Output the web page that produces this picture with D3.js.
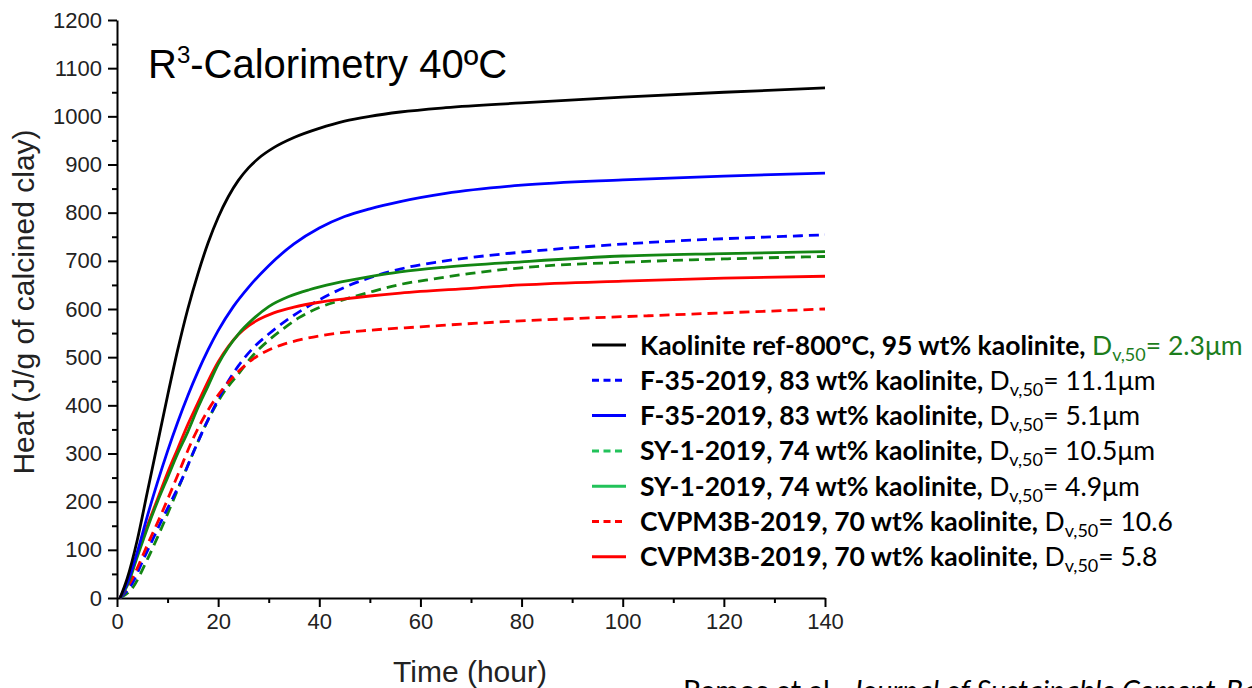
<!DOCTYPE html>
<html><head><meta charset="utf-8">
<script src="https://cdn.jsdelivr.net/npm/d3@7"></script>
<style>
html,body{margin:0;padding:0;background:#fff;overflow:hidden;}
svg{display:block;}
</style></head>
<body>
<svg id="chart" width="1252" height="688"></svg>
<script>
// ---- Data ----
const kaoT = [0.6, 2, 4, 6, 8, 10, 12, 14, 16, 18, 20, 22, 24, 26, 28, 31, 35, 40, 45, 50, 56, 65, 80, 100, 120, 140];
const kaoV = [0, 40, 120, 220, 320, 420, 515, 600, 673, 737, 790, 833, 867, 893, 913, 935, 956, 975, 990, 1000, 1009, 1018, 1028, 1040, 1050, 1059];

const f35fineT = [0.6, 2, 4, 6, 8, 10, 12, 14, 16, 18, 20, 23, 26, 30, 35, 40, 45, 50, 56, 65, 80, 100, 120, 140];
const f35fineV = [0, 30, 95, 170, 240, 305, 365, 420, 470, 515, 555, 605, 645, 690, 735, 768, 792, 808, 823, 840, 857, 868, 876, 882];

const f35coarseT = [0.6, 3, 5, 7, 9, 11, 13, 15, 18, 21, 24, 27, 30, 34, 39, 45, 50, 56, 63, 70, 80, 91, 105, 118, 130, 140];
const f35coarseV = [0, 30, 75, 120, 165, 207, 250, 300, 370, 432, 482, 520, 548, 580, 613, 645, 665, 683, 697, 707, 718, 728, 738, 745, 750, 754];

const sy1fineT = [0.6, 2, 4, 6, 8, 10, 12, 14, 16, 18, 20, 22, 24, 27, 30, 34, 38, 43, 50, 56, 65, 80, 100, 120, 140];
const sy1fineV = [0, 25, 85, 145, 200, 250, 300, 345, 395, 440, 485, 520, 548, 580, 605, 626, 640, 653, 667, 677, 687, 698, 710, 715, 719];

const sy1coarseT = [0.6, 3, 6, 9, 12, 15, 18, 21, 24, 27, 30, 33, 36, 40, 45, 50, 56, 63, 70, 84, 100, 120, 140];
const sy1coarseV = [0, 20, 80, 150, 225, 300, 370, 425, 465, 505, 535, 560, 582, 603, 620, 635, 651, 663, 674, 689, 697, 704, 709];

const cvpFineT = [0.6, 2, 4, 6, 8, 10, 12, 14, 16, 18, 20, 22, 24, 26, 28, 31, 35, 40, 45, 50, 56, 70, 80, 100, 120, 140];
const cvpFineV = [0, 30, 90, 150, 205, 260, 310, 360, 405, 450, 490, 522, 547, 565, 578, 592, 604, 614, 621, 627, 633, 643, 650, 658, 664, 668];

const cvpCoarseT = [0.6, 3, 6, 9, 12, 15, 18, 21, 24, 27, 30, 33, 37, 43, 50, 60, 72, 90, 105, 120, 140];
const cvpCoarseV = [0, 40, 110, 180, 255, 330, 390, 435, 470, 497, 515, 527, 538, 549, 556, 563, 571, 580, 586, 592, 600];

const xTicks = [0, 20, 40, 60, 80, 100, 120, 140];
const yTicks = [0, 100, 200, 300, 400, 500, 600, 700, 800, 900, 1000, 1100, 1200];

const seriesNames = [
  "Kaolinite ref-800\u00BAC, 95 wt% kaolinite,",
  "F-35-2019, 83 wt% kaolinite,",
  "F-35-2019, 83 wt% kaolinite,",
  "SY-1-2019, 74 wt% kaolinite,",
  "SY-1-2019, 74 wt% kaolinite,",
  "CVPM3B-2019, 70 wt% kaolinite,",
  "CVPM3B-2019, 70 wt% kaolinite,"
];
const seriesD50 = ["2.3\u03BCm", "11.1\u03BCm", "5.1\u03BCm", "10.5\u03BCm", "4.9\u03BCm", "10.6", "5.8"];

// ---- Styling ----
const plotColors   = ["#000000", "#0000ff", "#0000ff", "#138613", "#138613", "#ff0000", "#ff0000"];
const legendColors = ["#000000", "#0000ff", "#0000ff", "#22c25a", "#22c25a", "#ff0000", "#ff0000"];
const dashed = [false, true, false, true, false, true, false];

const seriesData = [
  [kaoT, kaoV], [f35coarseT, f35coarseV], [f35fineT, f35fineV],
  [sy1coarseT, sy1coarseV], [sy1fineT, sy1fineV],
  [cvpCoarseT, cvpCoarseV], [cvpFineT, cvpFineV]
];

const svg = d3.select("#chart");
const x = d3.scaleLinear().domain([0, 140]).range([117, 825]);
const y = d3.scaleLinear().domain([0, 1200]).range([598, 20]);

const axisFont = "'Liberation Sans Narrow', 'Liberation Sans', Arial, sans-serif";

// minor ticks
svg.append("g").attr("transform", `translate(0,${y(0)})`)
  .call(d3.axisBottom(x).tickValues(d3.range(10, 140, 20)).tickSize(5).tickFormat(""))
  .call(g => g.select(".domain").remove())
  .call(g => g.selectAll("line").attr("stroke", "#000").attr("stroke-width", 2));
svg.append("g").attr("transform", `translate(${x(0)},0)`)
  .call(d3.axisLeft(y).tickValues(d3.range(50, 1200, 100)).tickSize(5).tickFormat(""))
  .call(g => g.select(".domain").remove())
  .call(g => g.selectAll("line").attr("stroke", "#000").attr("stroke-width", 2));

// major axes
const fmt = d3.format("d");
const xAxis = svg.append("g").attr("transform", `translate(0,${y(0)})`)
  .call(d3.axisBottom(x).tickValues(xTicks).tickFormat(fmt).tickSize(9).tickSizeOuter(0).tickPadding(6));
const yAxis = svg.append("g").attr("transform", `translate(${x(0)},0)`)
  .call(d3.axisLeft(y).tickValues(yTicks).tickFormat(fmt).tickSize(9).tickSizeOuter(0).tickPadding(6));
[xAxis, yAxis].forEach(a => {
  a.select(".domain").attr("stroke", "#000").attr("stroke-width", 2);
  a.selectAll(".tick line").attr("stroke", "#000").attr("stroke-width", 2);
  a.selectAll(".tick text").attr("fill", "#222").style("font-family", axisFont).style("font-size", "22px");
});

// axis titles
svg.append("text").attr("x", 470).attr("y", 682).attr("text-anchor", "middle")
  .style("font-family", axisFont).style("font-size", "30px").attr("fill", "#222").text("Time (hour)");
svg.append("text").attr("transform", `translate(34,302) rotate(-90)`).attr("text-anchor", "middle")
  .style("font-family", axisFont).style("font-size", "30px").attr("fill", "#222").text("Heat (J/g of calcined clay)");

// title
const title = svg.append("text").attr("x", 148).attr("y", 78)
  .style("font-family", "'Liberation Sans', Arial, sans-serif").style("font-size", "40px").attr("fill", "#000");
title.append("tspan").text("R");
title.append("tspan").attr("dy", -15).style("font-size", "24px").text("3");
title.append("tspan").attr("dy", 15).text("-Calorimetry 40\u00BAC");

// curves
const line = d3.line().x(d => x(d[0])).y(d => y(d[1])).curve(d3.curveMonotoneX);
const drawOrder = [3, 1, 5, 6, 4, 2, 0];
drawOrder.forEach(i => {
  const [ts, vs] = seriesData[i];
  const pts = ts.map((t, k) => [t, vs[k]]);
  svg.append("path").datum(pts).attr("d", line)
    .attr("fill", "none").attr("stroke", plotColors[i]).attr("stroke-width", 2.8)
    .attr("stroke-dasharray", dashed[i] ? "10,6" : null);
});

// legend
const legFont = "Lato, 'Open Sans', sans-serif";
seriesNames.forEach((name, i) => {
  const ry = 345 + i * 35.3;
  svg.append("line").attr("x1", 592).attr("x2", 626).attr("y1", ry).attr("y2", ry)
    .attr("stroke", legendColors[i]).attr("stroke-width", 3)
    .attr("stroke-dasharray", dashed[i] ? "7,4.5" : null);
  const t = svg.append("text").attr("x", 640).attr("y", ry + 9.5)
    .style("font-family", legFont).style("font-size", "26.5px").attr("fill", "#000");
  t.append("tspan").style("font-weight", "bold").text(name + " ");
  const col = i === 0 ? "#1c7d1c" : "#000";
  t.append("tspan").attr("fill", col).text("D");
  t.append("tspan").attr("fill", col).attr("dy", 6).style("font-size", "18px").text("v,50");
  t.append("tspan").attr("fill", col).attr("dy", -6).text("= " + seriesD50[i]);
});

// citation (clipped at the bottom edge)
const cite = svg.append("text").attr("x", 683).attr("y", 701)
  .style("font-family", legFont).style("font-size", "29px").attr("fill", "#000");
cite.append("tspan").text("Ramos et al., ");
cite.append("tspan").style("font-style", "italic").text("Journal of Sustainable Cement-Based Materials");
</script>
</body></html>
